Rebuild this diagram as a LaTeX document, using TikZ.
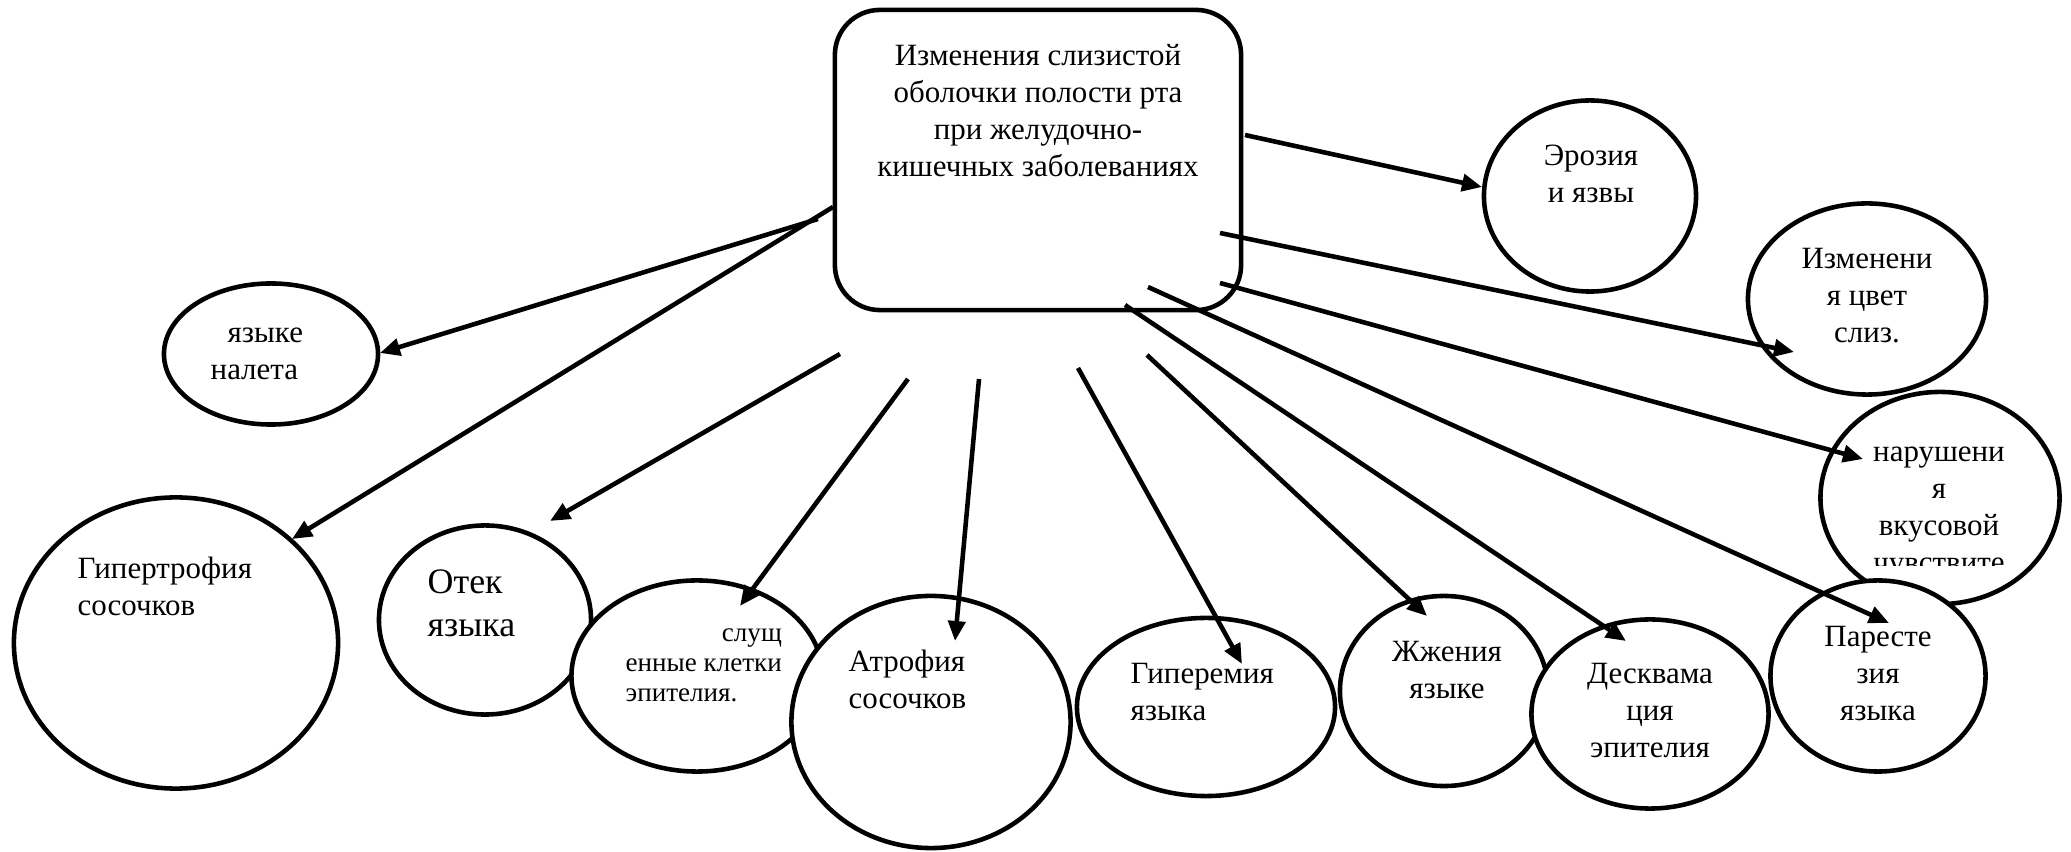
\documentclass[tikz,border=0pt]{standalone}
\usepackage{fontspec}
\setmainfont{Liberation Serif}
\usepackage{tikz}
\usetikzlibrary{shapes,arrows.meta}

\newcommand{\txtsize}{\fontsize{8.8}{10.5}\selectfont}
\newcommand{\bigsize}{\fontsize{10.2}{12.2}\selectfont}
\newcommand{\smallsize}{\fontsize{7.7}{8.5}\selectfont}

\begin{document}
\begin{tikzpicture}[x=0.01cm,y=-0.01cm,
  bubble/.style={shape=ellipse, draw = black, fill=white, line width=1.3pt, inner sep=0pt},
  txt/.style={inner sep=0pt, font=\txtsize},
  >={Triangle[length=0.2cm,width=0.17cm]}]

\useasboundingbox (0,0) rectangle (2071,852);

% Main box
\node [shape=rectangle, draw = black, line width=1.3pt, rounded corners=0.45cm, minimum width=4.06cm, minimum height=3.0cm] at (1038,160) (main) {};
\node [txt, anchor=north, align=center] at (1038,39) (main_txt) {\strut Изменения слизистой\\оболочки полости рта\\при желудочно-\\кишечных заболеваниях};

% Left and bottom bubbles
\node [bubble, minimum width=2.14cm, minimum height=1.41cm] at (271,354) (coating) {};
\node [bubble, minimum width=3.24cm, minimum height=2.91cm] at (176,643) (hypertrophy) {};
\node [bubble, minimum width=2.12cm, minimum height=1.89cm] at (485,620) (edema) {};
\node [bubble, minimum width=2.51cm, minimum height=1.91cm] at (697,676) (scaled_cells) {};
\node [bubble, minimum width=2.79cm, minimum height=2.52cm] at (931,722) (atrophy) {};
\node [bubble, minimum width=2.58cm, minimum height=1.78cm] at (1206,707) (hyperemia) {};
\node [bubble, minimum width=2.08cm, minimum height=1.90cm] at (1444,691) (burning) {};
\node [bubble, minimum width=2.37cm, minimum height=1.89cm] at (1650,714) (desquamation) {};

% Right bubbles
\node [bubble, minimum width=2.12cm, minimum height=1.91cm] at (1590,196) (erosion) {};
\node [bubble, minimum width=2.38cm, minimum height=1.91cm] at (1867,299) (colour) {};
\node [bubble, minimum width=2.39cm, minimum height=2.12cm] at (1940,498) (taste) {};
\node [bubble, minimum width=2.15cm, minimum height=1.91cm] at (1878,676) (paresthesia) {};

% Texts
\node [txt, anchor=north west, align=left] at (210,316) (coating_txt) {\strut\hspace*{0.17cm}языке\\налета};
\node [txt, anchor=north west, align=left] at (77,552) (hypertrophy_txt) {\strut Гипертрофия\\сосочков};
\node [txt, font=\bigsize, anchor=north west, align=left] at (427,563) (edema_txt) {\strut Отек\\языка};
\node [txt, font=\smallsize, anchor=north west, align=left] at (625,620) (scaled_cells_txt) {\strut\phantom{енные клетки}\llap{слущ}\\енные клетки\\эпителия.};
\node [txt, anchor=north west, align=left] at (848,645) (atrophy_txt) {\strut Атрофия\\сосочков};
\node [txt, anchor=north west, align=left] at (1130,657) (hyperemia_txt) {\strut Гиперемия\\языка};
\node [txt, anchor=north, align=center] at (1447,635) (burning_txt) {\strut Жжения\\языке};
\node [txt, anchor=north, align=center] at (1650,657) (desquamation_txt) {\strut Десквама\\ция\\эпителия};
\node [txt, anchor=north, align=center] at (1591,139) (erosion_txt) {\strut Эрозия\\и язвы};
\node [txt, anchor=north, align=center] at (1867,242) (colour_txt) {\strut Изменени\\я цвет\\слиз.};
\begin{scope}
\clip (1810,380) rectangle (2071,566);
\node [txt, anchor=north, align=center] at (1939,435) (taste_txt) {\strut нарушени\\я\\вкусовой\\чувствите};
\end{scope}
\node [txt, anchor=north, align=center] at (1878,620) (paresthesia_txt) {\strut Паресте\\зия\\языка};

% Arrow ends
\coordinate (erosion_from) at (1245,135);
\coordinate (erosion_to) at (1482,187);
\coordinate (colour_from) at (1220,233);
\coordinate (colour_to) at (1794,352);
\coordinate (taste_from) at (1220,283);
\coordinate (taste_to) at (1863,459);
\coordinate (paresthesia_from) at (1148,287);
\coordinate (paresthesia_to) at (1889,623);
\coordinate (desquamation_from) at (1125,305);
\coordinate (desquamation_to) at (1626,641);
\coordinate (burning_from) at (1147,355);
\coordinate (burning_to) at (1427,616);
\coordinate (hyperemia_from) at (1078,368);
\coordinate (hyperemia_to) at (1242,664);
\coordinate (atrophy_from) at (979,379);
\coordinate (atrophy_to) at (955,641);
\coordinate (scaled_cells_from) at (908,379);
\coordinate (scaled_cells_to) at (740,606);
\coordinate (edema_from) at (840,354);
\coordinate (edema_to) at (550,521);
\coordinate (hypertrophy_from) at (833,207);
\coordinate (hypertrophy_to) at (292,539);
\coordinate (coating_from) at (818,219);
\coordinate (coating_to) at (380,353);

\draw [->, line width=1.3pt] (erosion_from) -- (erosion_to);
\draw [->, line width=1.3pt] (colour_from) -- (colour_to);
\draw [->, line width=1.3pt] (taste_from) -- (taste_to);
\draw [->, line width=1.3pt] (paresthesia_from) -- (paresthesia_to);
\draw [->, line width=1.3pt] (desquamation_from) -- (desquamation_to);
\draw [->, line width=1.3pt] (burning_from) -- (burning_to);
\draw [->, line width=1.3pt] (hyperemia_from) -- (hyperemia_to);
\draw [->, line width=1.3pt] (atrophy_from) -- (atrophy_to);
\draw [->, line width=1.3pt] (scaled_cells_from) -- (scaled_cells_to);
\draw [->, line width=1.3pt] (edema_from) -- (edema_to);
\draw [->, line width=1.3pt] (hypertrophy_from) -- (hypertrophy_to);
\draw [->, line width=1.3pt] (coating_from) -- (coating_to);

\end{tikzpicture}
\end{document}
